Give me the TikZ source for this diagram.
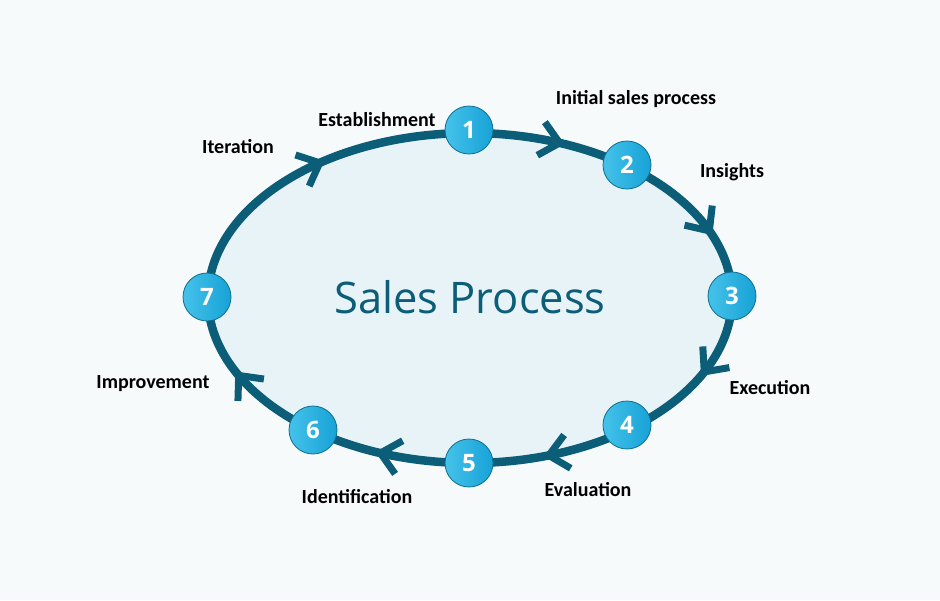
\documentclass[tikz,border=0pt]{standalone}
\usepackage{fontspec}
\setmainfont{Carlito}
\newfontfamily\titlefont{Open Sans}
\newfontfamily\numfont{Open Sans}
\definecolor{bgc}{HTML}{F7FAFB}
\definecolor{ringc}{HTML}{0B5D78}
\definecolor{fillc}{HTML}{E8F3F7}
\definecolor{balllight}{HTML}{45C2EA}
\definecolor{balldark}{HTML}{17A2D6}
\definecolor{ballrim}{HTML}{0E6E8E}
\tikzset{
  ring/.style={draw=ringc, line width=8.5pt, fill=fillc},
  chev/.style={draw=ringc, line width=7pt, line join=miter, line cap=butt},
  ball/.style={circle, minimum size=48pt, inner sep=0pt, draw=ballrim, line width=0.8pt,
    left color=balllight, right color=balldark, text=white,
    font=\numfont\bfseries\fontsize{24}{24}\selectfont},
  lbl/.style={font=\bfseries\fontsize{20}{20}\selectfont, text=black, inner sep=0pt}
}
\begin{document}
\begin{tikzpicture}[x=1pt,y=-1pt]
\useasboundingbox[fill=bgc] (0,0) rectangle (940,600);
% ring
\draw[ring] (470,298) ellipse [x radius=262pt, y radius=165pt];
% chevrons along the ring (clockwise flow)
\foreach \t in {290,336,26.6,72.5,110,152,235} {
  \pgfmathsetmacro\px{470+262*cos(\t)}
  \pgfmathsetmacro\py{298+165*sin(\t)}
  \pgfmathsetmacro\ang{atan2(-165*cos(\t),-262*sin(\t))}
  \draw[chev, shift={(\px,\py)}, rotate=\ang] (-19,17) -- (0,0) -- (-19,-17);
}
% title
\node[font=\titlefont\fontsize{43.5}{43.5}\selectfont, text=ringc] (title) at (470,297) {Sales Process};
% numbered balls
\node[ball] (n1) at (469,130) {1};
\node[ball] (n2) at (627,165) {2};
\node[ball] (n3) at (732,296) {3};
\node[ball] (n4) at (627,425) {4};
\node[ball] (n5) at (469,463) {5};
\node[ball] (n6) at (313,430) {6};
\node[ball] (n7) at (207,297) {7};
% labels
\node[lbl] (l1) at (377,120) {Establishment};
\node[lbl] (l2) at (636,99) {Initial sales process};
\node[lbl] (l3) at (732,172) {Insights};
\node[lbl] (l4) at (770,388) {Execution};
\node[lbl] (l5) at (588,490) {Evaluation};
\node[lbl] (l6) at (357,497) {Identification};
\node[lbl] (l7) at (153,384) {Improvement};
\node[lbl] (l8) at (238,147) {Iteration};
\end{tikzpicture}
\end{document}
